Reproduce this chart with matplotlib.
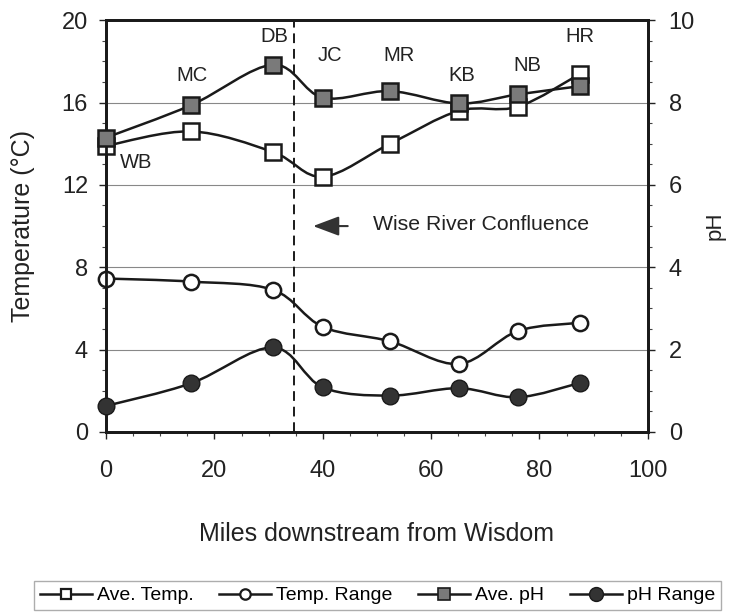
import matplotlib
matplotlib.use("Agg")
import matplotlib.pyplot as plt
import numpy as np
from matplotlib.path import Path
from matplotlib.patches import PathPatch
from matplotlib.lines import Line2D

plt.rcParams['font.family'] = ['Liberation Sans', 'DejaVu Sans']

# data
miles = [0, 15.7, 30.8, 40, 52.4, 65.1, 76, 87.5]
sites = ["WB", "MC", "DB", "JC", "MR", "KB", "NB", "HR"]
ave_temp = [13.9, 14.6, 13.6, 12.4, 14.0, 15.6, 15.8, 17.4]
temp_range = [7.45, 7.3, 6.9, 5.1, 4.4, 3.3, 4.9, 5.3]
ave_ph = [7.15, 7.94, 8.92, 8.12, 8.28, 7.98, 8.2, 8.4]
ph_range = [0.63, 1.18, 2.05, 1.08, 0.88, 1.06, 0.84, 1.19]

# label spots (miles, temperature units)
label_x = [5.5, 15.8, 31, 41.3, 54, 65.7, 77.8, 87.5]
label_y = [13.1, 17.3, 19.2, 18.3, 18.3, 17.3, 17.8, 19.2]


def smooth_line(ax, x, y, **kw):
    # Excel-like smoothed line drawn as bezier segments
    x = list(x); y = list(y)
    px = [x[0]] + x + [x[-1]]
    py = [y[0]] + y + [y[-1]]
    verts = [(x[0], y[0])]
    codes = [Path.MOVETO]
    for i in range(1, len(px) - 2):
        c1 = (px[i] + (px[i + 1] - px[i - 1]) / 6, py[i] + (py[i + 1] - py[i - 1]) / 6)
        c2 = (px[i + 1] - (px[i + 2] - px[i]) / 6, py[i + 1] - (py[i + 2] - py[i]) / 6)
        verts += [c1, c2, (px[i + 1], py[i + 1])]
        codes += [Path.CURVE4] * 3
    ax.add_patch(PathPatch(Path(verts, codes), fill=False, **kw))


fig = plt.figure(figsize=(7.32, 6.16), dpi=100)
ax = fig.add_axes([0.145, 0.299, 0.740, 0.668])
ax2 = ax.twinx()

ax.set_xlim(0, 100)
ax.set_ylim(0, 20)
ax2.set_ylim(0, 10)

ax.set_yticks([0, 4, 8, 12, 16, 20])
ax.set_yticks(np.arange(0, 21, 1), minor=True)
ax2.set_yticks([0, 2, 4, 6, 8, 10])
ax2.set_yticks(np.arange(0, 10.5, 0.5), minor=True)
ax.set_xticks([0, 20, 40, 60, 80, 100])
ax.set_xticks(np.arange(0, 101, 5), minor=True)

for g in [4, 8, 12, 16]:
    ax.axhline(g, color='#888888', lw=0.8, zorder=0)

lw = 1.8
smooth_line(ax, miles, ave_temp, color='#1a1a1a', lw=lw, zorder=3)
smooth_line(ax, miles, temp_range, color='#1a1a1a', lw=lw, zorder=3)
smooth_line(ax2, miles, ave_ph, color='#1a1a1a', lw=lw, zorder=3)
smooth_line(ax2, miles, ph_range, color='#1a1a1a', lw=lw, zorder=3)

ax.plot(miles, ave_temp, ls='none', marker='s', ms=11, mfc='white', mec='#1a1a1a', mew=1.8, zorder=5, clip_on=False)
ax.plot(miles, temp_range, ls='none', marker='o', ms=11, mfc='white', mec='#1a1a1a', mew=1.8, zorder=5, clip_on=False)
ax2.plot(miles, ave_ph, ls='none', marker='s', ms=11, mfc='#7a7a7a', mec='#1a1a1a', mew=1.8, zorder=6, clip_on=False)
ax2.plot(miles, ph_range, ls='none', marker='o', ms=12, mfc='#333333', mec='#1a1a1a', mew=1.0, zorder=6, clip_on=False)

ax.axvline(34.7, color='#1a1a1a', lw=1.4, ls=(0, (5, 3)), zorder=2)

for s, lx, ly in zip(sites, label_x, label_y):
    ax.text(lx, ly, s, fontsize=14.5, ha='center', va='center', color='#222222', zorder=7)

ax.annotate("", xy=(38.2, 10), xytext=(44.6, 10),
            arrowprops=dict(arrowstyle='-|>,head_length=1.6,head_width=0.6',
                            color='#333333', lw=1.5, shrinkA=0, shrinkB=0))
ax.text(49.2, 10.1, "Wise River Confluence", fontsize=15.3, va='center', ha='left', color='#222222')

ax.set_xlabel("Miles downstream from Wisdom", fontsize=18, color='#222222')
ax.xaxis.set_label_coords(0.5, -0.218)
ax.set_ylabel("Temperature (°C)", fontsize=18, color='#222222')
ax.yaxis.set_label_coords(-0.131, 0.5)
ax2.set_ylabel("pH", fontsize=16, color='#222222')
ax2.yaxis.set_label_coords(1.104, 0.5)

for a in (ax, ax2):
    a.tick_params(which='major', length=5, width=1.0, labelsize=17, colors='#222222', direction='out')
    a.tick_params(which='minor', length=3, width=0.8, direction='out', colors='#444444')
    for sp in a.spines.values():
        sp.set_linewidth(2.0)
        sp.set_color('#1a1a1a')
ax.tick_params(axis='x', pad=15)
ax.tick_params(axis='y', pad=8)
ax2.tick_params(axis='y', pad=10)

handles = [
    Line2D([], [], color='#1a1a1a', lw=1.8, marker='s', ms=7.5, mfc='white', mec='#1a1a1a', mew=1.6),
    Line2D([], [], color='#1a1a1a', lw=1.8, marker='o', ms=7.5, mfc='white', mec='#1a1a1a', mew=1.6),
    Line2D([], [], color='#1a1a1a', lw=1.8, marker='s', ms=9, mfc='#7a7a7a', mec='#1a1a1a', mew=1.2),
    Line2D([], [], color='#1a1a1a', lw=1.8, marker='o', ms=10, mfc='#333333', mec='#1a1a1a', mew=1.0),
]
labels = ["Ave. Temp.", "Temp. Range", "Ave. pH", "pH Range"]
leg = fig.legend(handles, labels, loc='upper left', bbox_to_anchor=(0.046, 0.057), ncol=4,
                 fontsize=14, frameon=True, fancybox=False, handlelength=2.7,
                 handletextpad=0.25, columnspacing=1.3, borderpad=0.3, borderaxespad=0)
leg.get_frame().set_edgecolor('#999999')
leg.get_frame().set_linewidth(1.0)

fig.savefig("out.png", dpi=100)
